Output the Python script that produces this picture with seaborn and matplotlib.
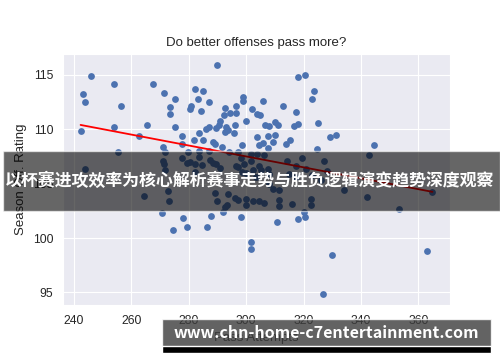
import seaborn as sns
from matplotlib import pyplot as plt
import pandas as pd
import numpy as np

# pass attempts (x) and offensive rating (y)
pass_att = [
    246.1, 243.2, 243.7, 254.1, 256.4, 242.3, 253.9, 255.3, 243.7, 267.6,
    271.2, 273.5, 273.6, 265.6, 275.3, 262.5, 275.2, 271.0, 271.7, 270.9,
    271.3, 271.6, 272.6, 264.3, 273.2, 270.5, 274.4,
    289.9, 282.0, 284.8, 283.3, 286.9, 280.9, 280.4, 284.1, 292.7, 296.4,
    296.6, 299.0, 298.8, 292.4, 294.3, 290.8, 290.4, 292.9, 293.5, 292.5,
    296.1, 295.8, 300.0, 289.5, 285.9, 286.9, 283.6, 277.5, 277.7, 281.8,
    284.8, 288.3, 289.2, 291.5, 298.5, 279.8, 283.4, 286.9, 294.1, 297.0,
    277.8, 280.4, 283.6, 282.3, 287.5, 288.3, 289.4, 298.2, 299.3, 298.7,
    297.0, 282.3, 300.0, 301.8, 284.7, 291.0, 296.3, 279.5,
    289.1, 289.8, 293.7, 296.1, 297.3, 299.8, 300.1, 292.7, 292.1, 287.7,
    286.5, 298.2, 277.9, 279.3, 301.8, 301.7, 293.4,
    318.1, 320.5, 323.8, 323.1, 305.9, 312.8, 302.0, 303.6, 304.9, 317.2,
    325.1, 318.2, 316.8, 306.7, 307.8, 310.2, 311.0, 329.1, 331.2, 303.6,
    307.6, 310.0, 315.3, 313.8, 309.3, 305.7, 304.6, 307.7, 324.8, 301.7,
    303.6, 306.3, 314.4, 319.3, 327.2, 304.6, 307.5, 317.3, 320.8, 328.3,
    302.3, 305.2, 308.1, 315.0, 317.3, 323.1, 326.0, 303.4, 308.1, 309.2,
    311.5, 302.5, 304.6, 306.3, 311.5, 311.5, 316.1, 322.6, 322.5, 320.0,
    318.2, 320.5, 310.8, 329.8, 326.9,
    344.4, 342.9, 334.0, 342.2, 353.1, 364.9, 363.0,
]
off_rating = [
    114.9, 113.2, 112.45, 114.1, 112.1, 109.8, 110.15, 107.9, 106.3, 114.1,
    113.3, 112.0, 111.4, 110.4, 112.8, 109.4, 110.2, 108.4, 107.9, 107.1,
    106.8, 106.2, 104.3, 103.9, 103.4, 102.3, 100.7,
    115.85, 113.7, 113.5, 112.8, 112.5, 112.1, 111.8, 111.7, 111.9, 112.1,
    111.5, 112.9, 112.6, 111.3, 111.5, 110.7, 110.35, 110.2, 109.9, 109.7,
    110.4, 109.6, 110.7, 110.1, 110.0, 110.2, 109.6, 109.4, 108.65, 109.0,
    109.0, 108.8, 108.65, 108.4, 108.5, 107.9, 107.95, 108.0, 107.9, 107.85,
    107.3, 107.0, 107.4, 106.8, 107.2, 106.9, 106.8, 107.3, 106.75, 106.1,
    106.5, 106.05, 106.0, 107.1, 106.7, 106.4, 106.6, 106.9,
    104.15, 103.4, 104.0, 103.65, 103.5, 103.55, 103.0, 102.85, 102.4, 102.0,
    101.0, 101.9, 101.8, 101.0, 99.6, 99.0, 103.0,
    114.8, 115.0, 113.5, 112.8, 112.6, 112.1, 111.8, 111.4, 111.3, 111.6,
    110.6, 110.5, 110.3, 110.4, 110.25, 110.65, 110.35, 109.3, 109.5, 109.3,
    109.4, 109.5, 109.0, 108.65, 108.85, 108.7, 108.5, 108.25, 108.2, 107.7,
    107.7, 107.6, 107.1, 107.35, 107.1, 106.65, 106.35, 106.65, 106.3, 106.15,
    106.2, 106.2, 105.9, 105.9, 105.6, 105.75, 105.3, 105.6, 105.0, 104.5,
    104.4, 103.4, 103.4, 103.2, 103.5, 102.9, 103.1, 103.6, 103.0, 102.4,
    101.7, 101.9, 101.5, 98.4, 94.9,
    108.5, 107.6, 104.4, 103.8, 102.7, 104.2, 98.8,
]

title = 'Do better offenses pass more?'
x_label = 'Pass Attempts'
y_label = 'Season Off. Rating'
banner_text = '以杯赛进攻效率为核心解析赛事走势与胜负逻辑演变趋势深度观察'
mark_text = 'www.chn-home-c7entertainment.com'

df = pd.DataFrame({'pass_att': pass_att, 'off_rating': off_rating})

sns.set_style('darkgrid')
plt.rcParams['font.family'] = ['Liberation Sans', 'DejaVu Sans']

fig = plt.figure(figsize=(5, 3.62), dpi=100)
ax = fig.add_axes([0.126, 0.1575, 0.774, 0.6935])
sns.regplot(data=df, x='pass_att', y='off_rating', ci=None, ax=ax,
            color='#4c72b0', scatter_kws={'s': 24, 'alpha': 1, 'linewidths': 0},
            line_kws={'color': 'red', 'lw': 1.3})
ax.set_title(title, fontsize=9.5, pad=6)
ax.set_xlabel(x_label, fontsize=9.5)
ax.set_ylabel(y_label, fontsize=9.5)
ax.tick_params(labelsize=8.7)
ax.set_xticks([240, 260, 280, 300, 320, 340, 360])
ax.set_yticks([95, 100, 105, 110, 115])

# overlay banner and watermark
fig.patches.append(plt.Rectangle((0.006, 0.417), 0.994, 0.166, transform=fig.transFigure,
                                 facecolor='black', alpha=0.6, zorder=5))
fig.text(0.5, 0.5, banner_text, color='white', fontsize=12.2, fontweight='bold',
         family=['Noto Sans CJK SC', 'DejaVu Sans'], ha='center', va='center', zorder=6)
fig.patches.append(plt.Rectangle((0.324, 0.042), 0.658, 0.077, transform=fig.transFigure,
                                 facecolor='#3c3c3c', alpha=0.8, zorder=5))
fig.patches.append(plt.Rectangle((0.324, 0.025), 0.658, 0.018, transform=fig.transFigure,
                                 facecolor='black', zorder=5))
fig.text(0.653, 0.08, mark_text, color='white', fontsize=11.5, fontweight='bold',
         family=['Noto Sans CJK SC', 'DejaVu Sans'], ha='center', va='center', zorder=6)

fig.savefig('out.png', dpi=100)
